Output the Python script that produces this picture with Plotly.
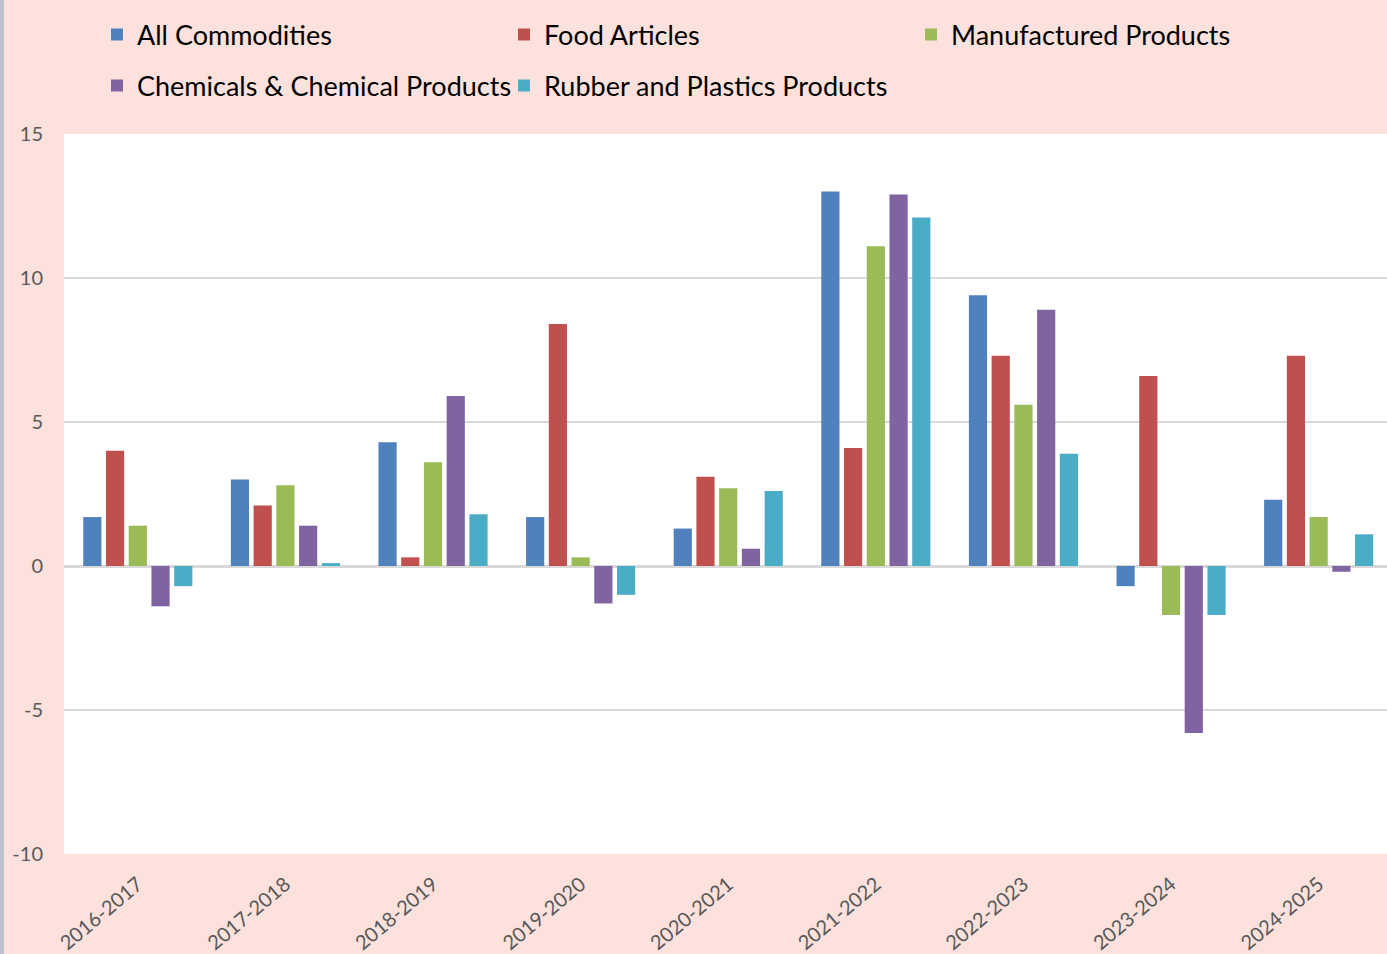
import plotly.graph_objects as go

years = ["2016-2017", "2017-2018", "2018-2019", "2019-2020", "2020-2021",
         "2021-2022", "2022-2023", "2023-2024", "2024-2025"]

all_commodities = [1.7, 3.0, 4.3, 1.7, 1.3, 13.0, 9.4, -0.7, 2.3]
food_articles = [4.0, 2.1, 0.3, 8.4, 3.1, 4.1, 7.3, 6.6, 7.3]
manufactured = [1.4, 2.8, 3.6, 0.3, 2.7, 11.1, 5.6, -1.7, 1.7]
chemicals = [-1.4, 1.4, 5.9, -1.3, 0.6, 12.9, 8.9, -5.8, -0.2]
rubber_plastics = [-0.7, 0.1, 1.8, -1.0, 2.6, 12.1, 3.9, -1.7, 1.1]

y_ticks = [-10, -5, 0, 5, 10, 15]
y_tick_text = ["-10", "-5", "0", "5", "10", "15"]

series = [
    ("All Commodities", all_commodities, "#4F81BD", "legend"),
    ("Food Articles", food_articles, "#C0504D", "legend"),
    ("Manufactured Products", manufactured, "#9BBB59", "legend"),
    ("Chemicals & Chemical Products", chemicals, "#8064A2", "legend2"),
    ("Rubber and Plastics Products", rubber_plastics, "#4BACC6", "legend2"),
]

fig = go.Figure()
for name, vals, col, leg in series:
    fig.add_trace(go.Bar(x=years, y=vals, name=name, marker_color=col,
                         marker_line_width=0, legend=leg))

font = "Lato, 'Open Sans', sans-serif"
leg_common = dict(orientation="h", xref="container", yref="container",
                  xanchor="left", yanchor="middle", entrywidth=362,
                  entrywidthmode="pixels", bgcolor="rgba(0,0,0,0)",
                  font=dict(size=27, color="black", family=font),
                  traceorder="normal")
fig.update_layout(
    width=1387, height=954,
    paper_bgcolor="#FCE1DC", plot_bgcolor="white",
    margin=dict(l=64, r=0, t=134, b=100, autoexpand=False),
    barmode="group", bargap=0.23, bargroupgap=0.2,
    font=dict(family=font, color="#595959"),
    legend=dict(leg_common, x=97 / 1387, y=1 - 35 / 954),
    legend2=dict(leg_common, x=97 / 1387, y=1 - 86 / 954),
    showlegend=True,
)
# plot runs a few px past the right edge in the original
fig.update_xaxes(range=[-0.5, 8.463], tickangle=-40, tickfont=dict(size=20),
                 showgrid=False, ticks="", ticklabelstandoff=14)
fig.update_yaxes(range=[-10, 15], tickvals=y_ticks, ticktext=y_tick_text,
                 tickfont=dict(size=20), ticklabelstandoff=20,
                 gridcolor="#D9D9D9", gridwidth=2, zeroline=True,
                 zerolinecolor="#D9D9D9", zerolinewidth=3, ticks="")
fig.add_shape(type="line", xref="paper", yref="paper", x0=-62 / 1323, x1=-62 / 1323,
              y0=-0.2, y1=1.3, line=dict(color="#BCC4D4", width=4))
fig.write_html("out.html", config={"displayModeBar": False},
               post_script="document.body.style.margin='0';document.body.style.overflow='hidden';")
